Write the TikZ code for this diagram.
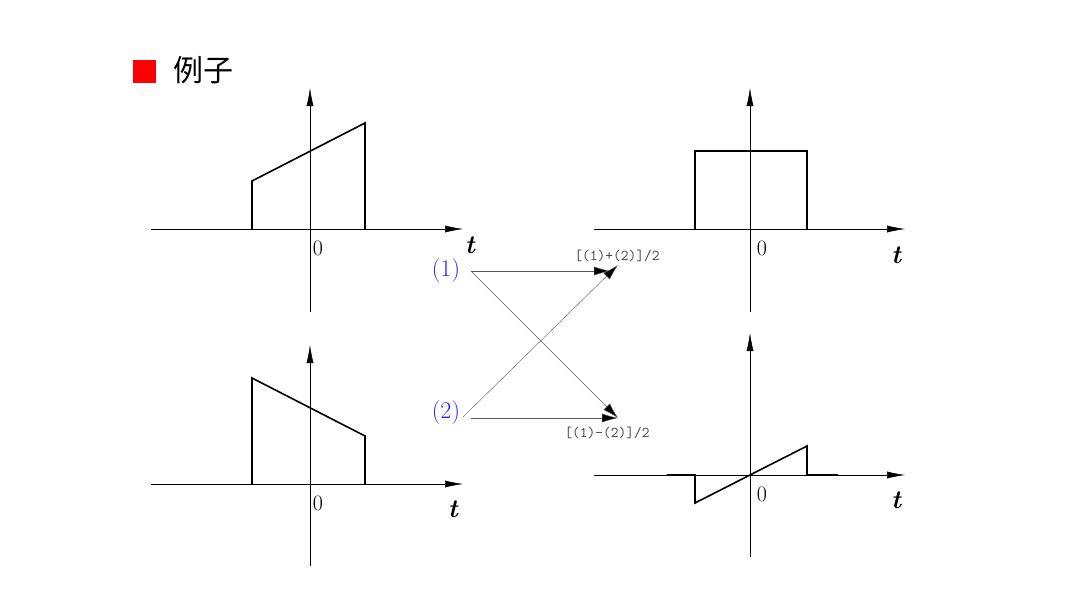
\documentclass[tikz,border=0pt]{standalone}
\usepackage{fontspec}
\newfontfamily\cjk{Noto Sans CJK SC}
\usetikzlibrary{arrows.meta}
\begin{document}
\begin{tikzpicture}[x=1pt,y=-1pt,
  ax/.style={line width=0.5pt,-{Latex[length=18pt,width=7pt]}},
  sig/.style={line width=1.6pt},
  ln/.style={line width=0.4pt,draw=gray!70!black,-{Latex[length=16pt,width=9pt,fill=black]}},
  lbl/.style={font=\fontsize{22}{22}\selectfont},
  tl/.style={font=\fontsize{26}{26}\selectfont\itshape\bfseries},
  bl/.style={font=\fontsize{24}{24}\selectfont,text=blue!85!white},
  fm/.style={font=\fontsize{15}{15}\selectfont\ttfamily,text=black!75}]
\useasboundingbox (0,0) rectangle (1080,608);
\fill[red] (133,60) rectangle (156,83);
\node[font=\cjk\fontsize{30}{30}\selectfont] (title) at (203,70) {例子};
% plot 1
\draw[ax] (151,229) -- (463,229);
\draw[ax] (310,312) -- (310,88);
\draw[sig] (252,229) -- (252,181) -- (365,123) -- (365,229);
\node[lbl] (z1) at (318,248) {0};
\node[tl] (t1) at (470,245) {t};
% plot 3
\draw[ax] (151,484) -- (463,484);
\draw[ax] (310,566) -- (310,345);
\draw[sig] (252,484) -- (252,378) -- (365,436) -- (365,484);
\node[lbl] (z3) at (318,503) {0};
\node[tl] (t3) at (453,509) {t};
% plot 2
\draw[ax] (594,229) -- (905,229);
\draw[ax] (750,312) -- (750,88);
\draw[sig] (695,229) -- (695,151) -- (807,151) -- (807,229);
\node[lbl] (z2) at (762,248) {0};
\node[tl] (t2) at (896,255) {t};
% plot 4
\draw[ax] (594,475) -- (905,475);
\draw[ax] (750,557) -- (750,333);
\draw[sig] (667,475) -- (695,475) -- (695,503) -- (807,446) -- (807,475) -- (838,475);
\node[lbl] (z4) at (762,494) {0};
\node[tl] (t4) at (896,500) {t};
% middle
\node[bl] (n1) at (446,271) {(1)};
\node[bl] (n2) at (446,413) {(2)};
\coordinate (a1) at (471,271);
\coordinate (a2) at (463,417);
\coordinate (a3) at (471,418);
\coordinate (p) at (610,271);
\coordinate (p2) at (618,265);
\coordinate (m) at (618,418);
\draw[ln] (a1) -- (p);
\draw[ln] (a1) -- (m);
\draw[ln] (a2) -- (p2);
\draw[ln] (a3) -- (m);
\node[fm] (f1) at (617,256) {[(1)+(2)]/2};
\node[fm] (f2) at (607,433) {[(1)-(2)]/2};
\end{tikzpicture}
\end{document}
